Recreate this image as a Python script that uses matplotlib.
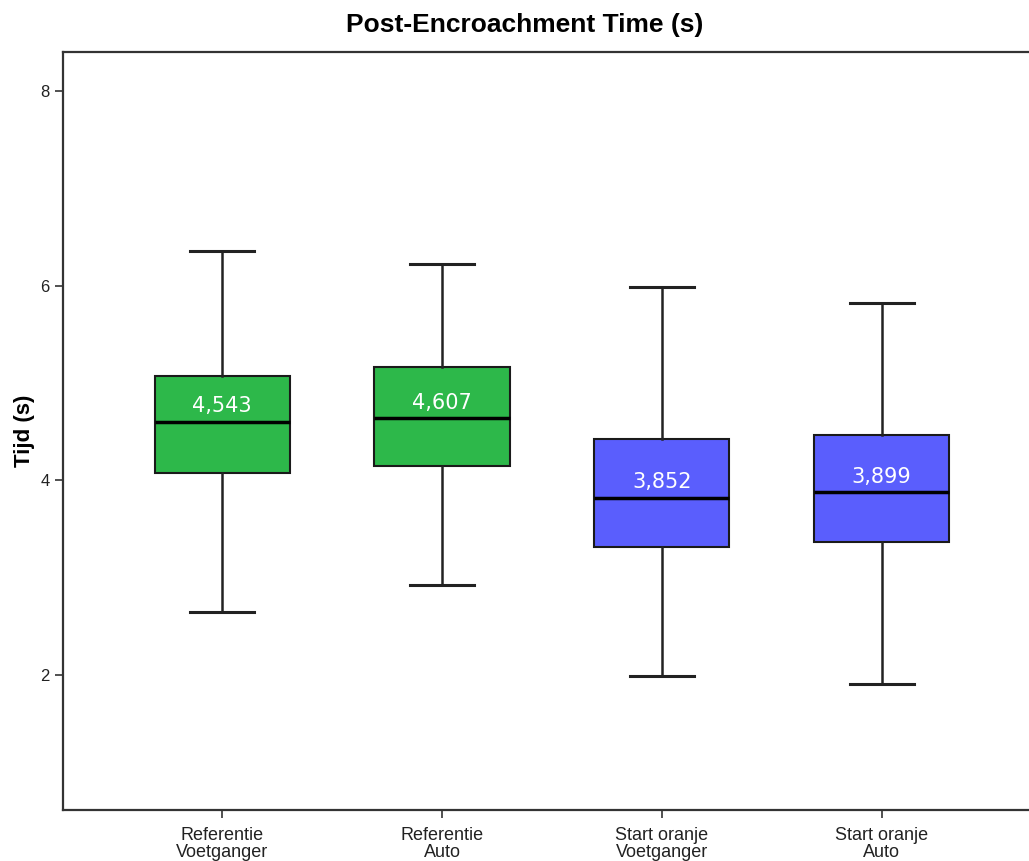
import matplotlib
matplotlib.use("Agg")
import matplotlib.pyplot as plt

categories = ["Referentie\nVoetganger", "Referentie\nAuto", "Start oranje\nVoetganger", "Start oranje\nAuto"]
whislo = [2.64, 2.92, 1.99, 1.90]
q1 = [4.07, 4.15, 3.31, 3.36]
med = [4.60, 4.64, 3.82, 3.88]
q3 = [5.07, 5.16, 4.42, 4.46]
whishi = [6.36, 6.22, 5.98, 5.82]
labels = ["4,543", "4,607", "3,852", "3,899"]
colors = ["#2db84a", "#2db84a", "#5a5efd", "#5a5efd"]

plt.rcParams['font.family'] = ['Liberation Sans', 'DejaVu Sans']

fig = plt.figure(figsize=(10.29, 8.61), dpi=100)
ax = fig.add_axes([63/1029, 1 - 810/861, (1040 - 63)/1029, (810 - 52)/861])

stats = []
for i in range(4):
    stats.append(dict(whislo=whislo[i], q1=q1[i], med=med[i], q3=q3[i], whishi=whishi[i], fliers=[], label=categories[i]))

positions = [1, 2, 3, 4]
bp = ax.bxp(stats, positions=positions, widths=0.615, patch_artist=True, showfliers=False,
            boxprops=dict(linewidth=1.5, edgecolor="#1a1a1a"),
            medianprops=dict(color="black", linewidth=2.5),
            whiskerprops=dict(color="#222222", linewidth=1.8),
            capprops=dict(color="#222222", linewidth=2.2),
            capwidths=0.29)
for patch, c in zip(bp['boxes'], colors):
    patch.set_facecolor(c)

for i in range(4):
    ax.annotate(labels[i], (positions[i], med[i]), xytext=(0, 11), textcoords="offset points",
                ha="center", va="center", color="white", fontsize=15, family=["DejaVu Sans"])

ax.set_xlim(0.276, 4.72)
ax.set_ylim(0.61, 8.4)
ax.set_yticks([2, 4, 6, 8])
ax.set_yticklabels(["2", "4", "6", "8"])
ax.tick_params(axis='y', labelsize=12)
ax.tick_params(axis='x', labelsize=13, pad=6)
ax.tick_params(axis='both', length=6, width=1.2, color="#333333", labelcolor="#222222")
for t in ax.get_xticklabels():
    t.set_linespacing(1.0)
ax.spines['right'].set_visible(False)
for s in ['left', 'top', 'bottom']:
    ax.spines[s].set_linewidth(1.6)
    ax.spines[s].set_color("#333333")
ax.set_ylabel("Tijd (s)", fontsize=16, fontweight="bold", labelpad=4)
fig.text(525/1029, 1 - 25/861, "Post-Encroachment Time (s)", ha="center", va="center", fontsize=19, fontweight="bold")

fig.savefig("out.png", dpi=100)
